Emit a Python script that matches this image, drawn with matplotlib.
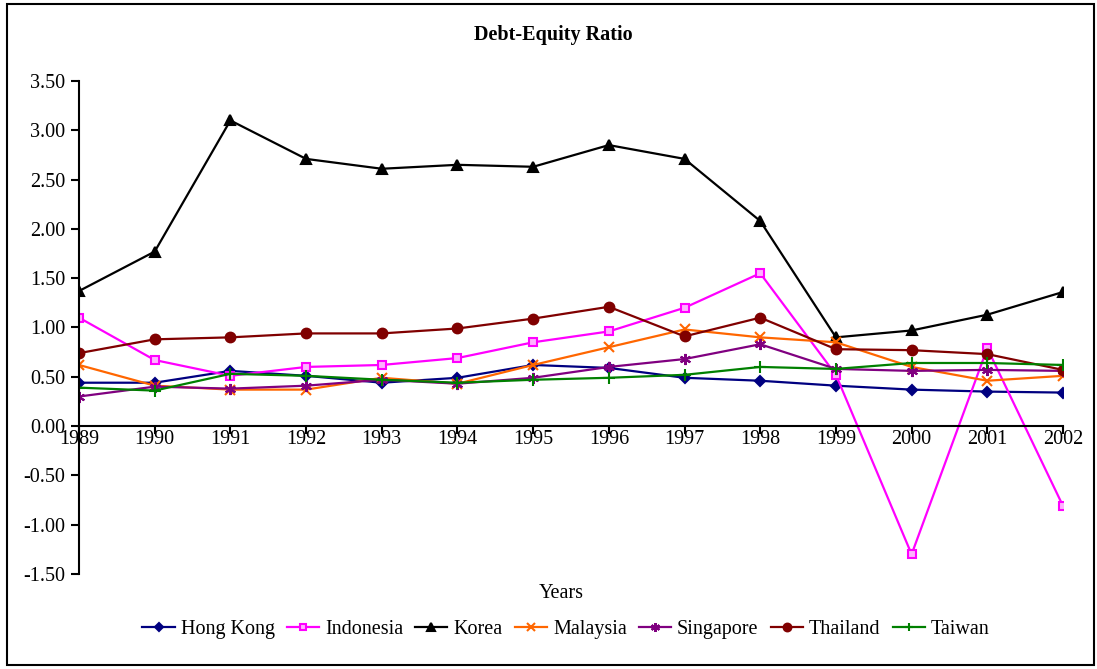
import numpy as np
import matplotlib.pyplot as plt
from matplotlib.patches import Rectangle

plt.rcParams['font.family'] = ['Liberation Serif', 'DejaVu Serif']

years = list(range(1989, 2003))
hong_kong = [0.44, 0.44, 0.56, 0.51, 0.44, 0.49, 0.62, 0.59, 0.49, 0.46, 0.41, 0.37, 0.35, 0.34]
indonesia = [1.10, 0.67, 0.51, 0.60, 0.62, 0.69, 0.85, 0.96, 1.20, 1.55, 0.52, -1.30, 0.79, -0.81]
korea = [1.37, 1.77, 3.10, 2.71, 2.61, 2.65, 2.63, 2.85, 2.71, 2.08, 0.90, 0.97, 1.13, 1.36]
malaysia = [0.62, 0.41, 0.37, 0.37, 0.49, 0.43, 0.62, 0.80, 0.98, 0.90, 0.85, 0.60, 0.46, 0.51]
singapore = [0.30, 0.40, 0.38, 0.41, 0.47, 0.43, 0.49, 0.60, 0.68, 0.83, 0.58, 0.56, 0.57, 0.56]
thailand = [0.74, 0.88, 0.90, 0.94, 0.94, 0.99, 1.09, 1.21, 0.91, 1.10, 0.78, 0.77, 0.73, 0.57]
taiwan = [0.39, 0.36, 0.53, 0.51, 0.47, 0.44, 0.47, 0.49, 0.52, 0.60, 0.58, 0.64, 0.64, 0.62]

series = [
    ('Hong Kong', hong_kong, '#000080', 'D', 5, '#000080'),
    ('Indonesia', indonesia, '#FF00FF', 's', 6, '#FFB3FF'),
    ('Korea', korea, '#000000', '^', 6.5, '#000000'),
    ('Malaysia', malaysia, '#FF6600', 'x', 7, '#FF6600'),
    ('Singapore', singapore, '#800080', (6, 2, 0), 8, '#800080'),
    ('Thailand', thailand, '#800000', 'o', 7, '#800000'),
    ('Taiwan', taiwan, '#008000', '+', 8, '#008000'),
]

fs = 14.5

fig = plt.figure(figsize=(10.97, 6.69), dpi=100)
ax = fig.add_axes([79 / 1097, 1 - 574 / 669, (1063 - 79) / 1097, (574 - 81) / 669])

# move the x axis to zero first: this rebuilds the tick objects
ax.spines['top'].set_visible(False)
ax.spines['right'].set_visible(False)
ax.spines['bottom'].set_position(('data', 0))
ax.spines['left'].set_linewidth(1.5)
ax.spines['bottom'].set_linewidth(1.5)

for name, vals, col, mk, ms, fc in series:
    ax.plot(years, vals, color=col, marker=mk, markersize=ms, markerfacecolor=fc,
            markeredgecolor=col, markeredgewidth=1.5, linewidth=1.6, label=name)

ax.set_xlim(1989, 2002)
ax.set_ylim(-1.5, 3.5)
yt = np.arange(-1.5, 3.51, 0.5)
ax.set_yticks(yt)
ax.set_yticklabels(['%.2f' % v for v in yt])
ax.set_xticks(years)
ax.set_xticklabels([str(y) for y in years])
ax.tick_params(axis='x', direction='out', length=6, width=1.5, pad=-3, labelsize=fs)
ax.tick_params(axis='y', direction='out', length=6, width=1.5, pad=4, labelsize=fs)

fig.text(553 / 1097, 1 - 35 / 669, 'Debt-Equity Ratio', ha='center', va='center',
         fontsize=fs, fontweight='bold')
fig.text(561 / 1097, 1 - 594 / 669, 'Years', ha='center', va='center', fontsize=fs)

fig.legend(loc='center', bbox_to_anchor=(566 / 1097, 1 - 629 / 669), ncol=7,
           frameon=False, fontsize=fs, handlelength=1.6, handletextpad=0.3,
           columnspacing=0.6, borderpad=0, markerscale=0.8)

fig.patches.append(Rectangle((7 / 1097, 4 / 669), 1087 / 1097, 661 / 669,
                             transform=fig.transFigure, fill=False,
                             edgecolor='black', linewidth=1.5))

fig.savefig('out.png', dpi=100)
